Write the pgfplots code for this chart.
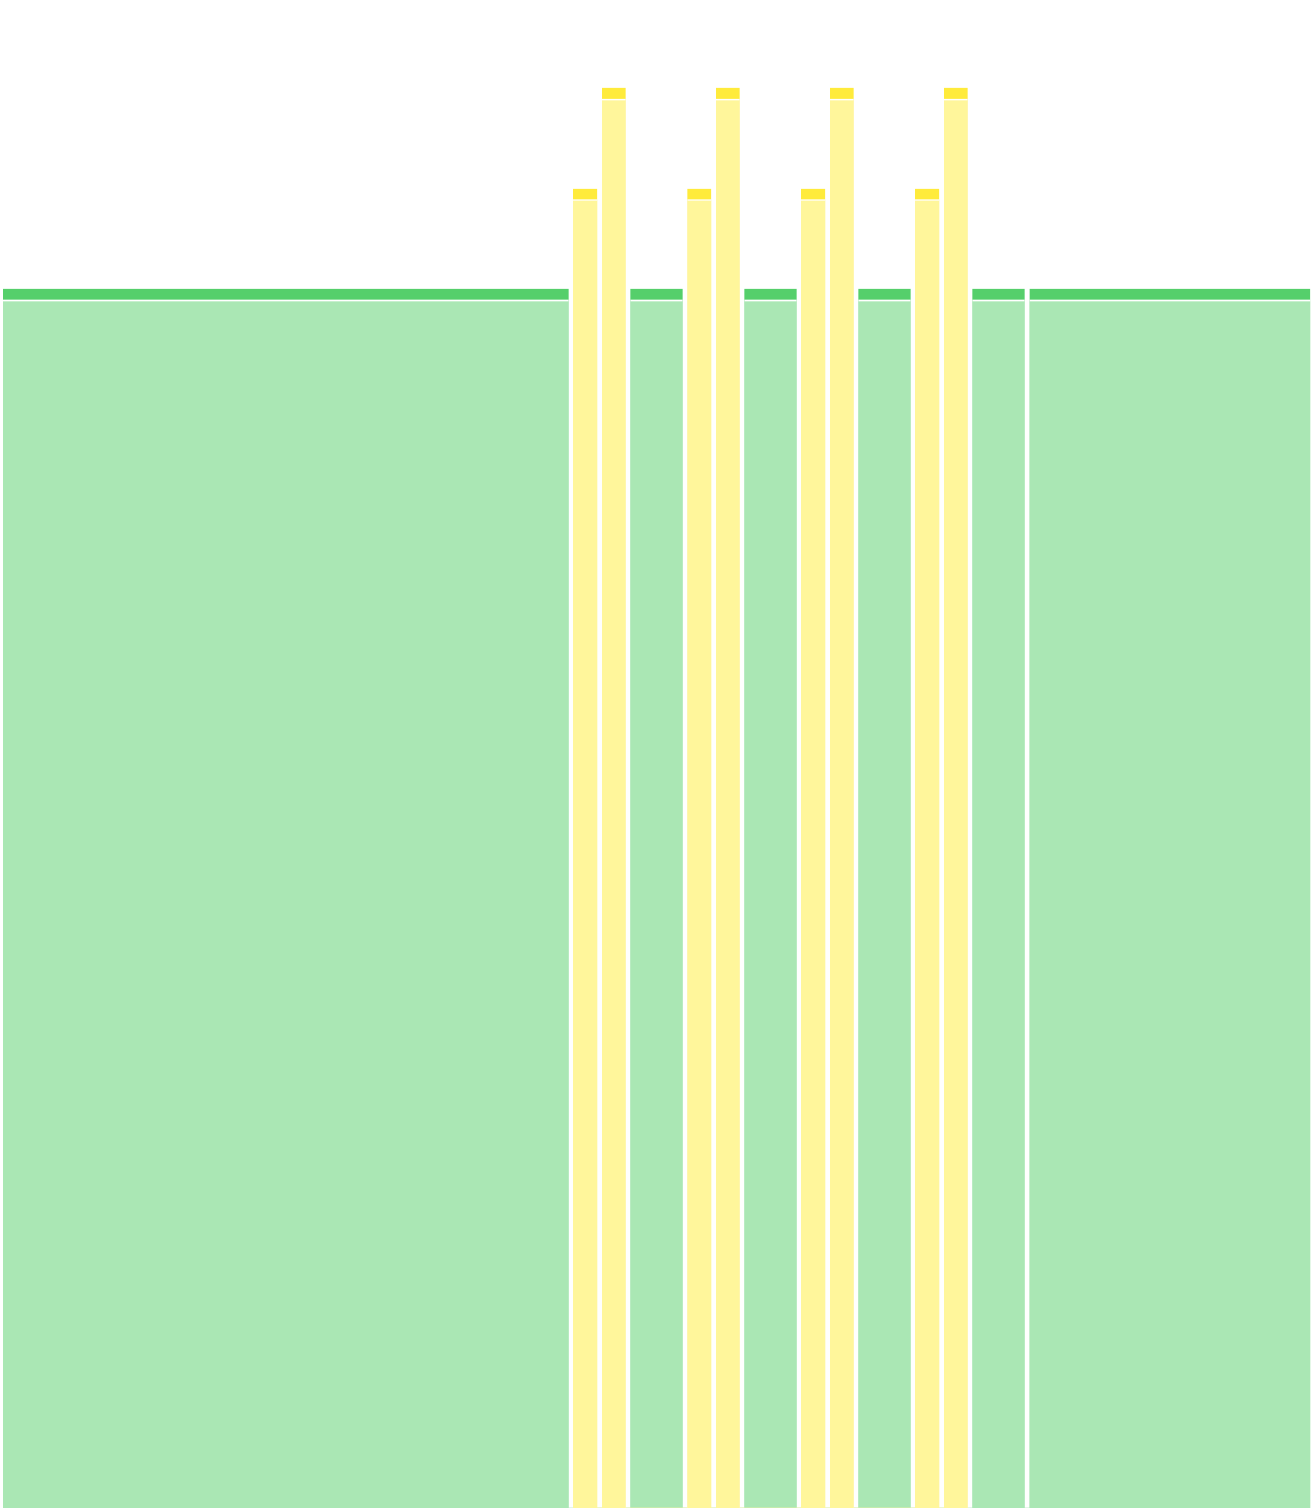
\documentclass[border=0pt]{standalone}
\usepackage{pgfplots}
\usepackage{pgfplotstable}
\pgfplotsset{compat=1.18}

\definecolor{greencap}{HTML}{55CF6B}
\definecolor{greenbody}{HTML}{AAE7B4}
\definecolor{yellowcap}{HTML}{FFEB3B}
\definecolor{yellowbody}{HTML}{FFF69B}

% bar edges (x) and heights: top of cap, bottom of cap, top of body
\pgfplotstableread{
x      top    cut     body
3      12.19  12.083  12.067
568.7  0      0       0
630.3  12.19  12.083  12.067
682.7  0      0       0
744.3  12.19  12.083  12.067
796.7  0      0       0
858.3  12.19  12.083  12.067
910.7  0      0       0
972.3  12.19  12.083  12.067
1024.7 0      0       0
1029.7 12.19  12.083  12.067
1310   0      0       0
}\greenbars

\pgfplotstableread{
x      top    cut     body
573    13.19  13.087  13.073
597    0      0       0
602    14.20  14.090  14.077
625.7  0      0       0
687.3  13.19  13.087  13.073
711    0      0       0
716    14.20  14.090  14.077
739.7  0      0       0
801    13.19  13.087  13.073
825    0      0       0
830    14.20  14.090  14.077
853.7  0      0       0
915    13.19  13.087  13.073
939    0      0       0
944    14.20  14.090  14.077
967.7  0      0       0
}\yellowbars

\begin{document}
\begin{tikzpicture}
\begin{axis}[
    width=656pt, height=754pt,
    scale only axis,
    xmin=0, xmax=1312,
    ymin=0, ymax=15.08,
    hide axis,
]
    % green bars
    \addplot[ybar interval, fill=greencap, draw=none] table[x=x, y=top] {\greenbars};
    \addplot[ybar interval, fill=white, draw=none] table[x=x, y=cut] {\greenbars};
    \addplot[ybar interval, fill=greenbody, draw=none] table[x=x, y=body] {\greenbars};

    % yellow bars
    \addplot[ybar interval, fill=yellowcap, draw=none] table[x=x, y=top] {\yellowbars};
    \addplot[ybar interval, fill=white, draw=none] table[x=x, y=cut] {\yellowbars};
    \addplot[ybar interval, fill=yellowbody, draw=none] table[x=x, y=body] {\yellowbars};

    \coordinate (bl) at (rel axis cs:0,0);
    \coordinate (tr) at (rel axis cs:1,1);
\end{axis}
\pgfresetboundingbox
\useasboundingbox (bl) rectangle (tr);
\end{tikzpicture}
\end{document}
